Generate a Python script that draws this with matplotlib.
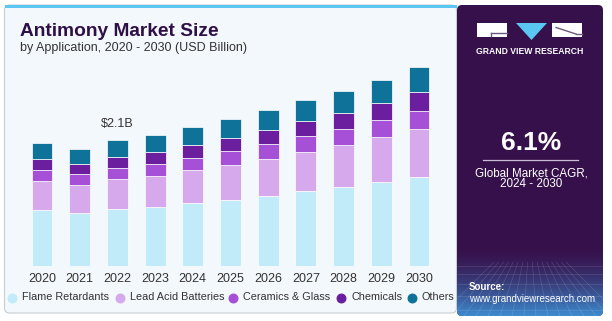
import numpy as np
import matplotlib
matplotlib.use("Agg")
import matplotlib.pyplot as plt
from matplotlib.patches import FancyBboxPatch, Rectangle, Polygon

plt.rcParams["font.family"] = ["Liberation Sans", "DejaVu Sans"]

years = ["2020", "2021", "2022", "2023", "2024", "2025", "2026", "2027", "2028", "2029", "2030"]
segments = ["Flame Retardants", "Lead Acid Batteries", "Ceramics & Glass", "Chemicals", "Others"]
flame = [0.93, 0.89, 0.95, 0.99, 1.05, 1.11, 1.17, 1.25, 1.32, 1.40, 1.49]
lead = [0.49, 0.46, 0.50, 0.52, 0.55, 0.58, 0.62, 0.66, 0.70, 0.76, 0.80]
ceramics = [0.19, 0.18, 0.19, 0.20, 0.21, 0.23, 0.25, 0.26, 0.27, 0.28, 0.30]
chemicals = [0.18, 0.17, 0.18, 0.19, 0.21, 0.22, 0.24, 0.25, 0.26, 0.28, 0.31]
others = [0.27, 0.26, 0.28, 0.29, 0.30, 0.32, 0.33, 0.35, 0.37, 0.39, 0.43]
colors = ["#c1ebf9", "#d5a9ec", "#a650d8", "#6b1f9e", "#0f7399"]
label_year = "2022"
label_text = "$2.1B"

W, H = 612, 321
fig = plt.figure(figsize=(W / 100, H / 100), dpi=100)
fig.patch.set_facecolor("white")

# background / decoration axes in pixel coordinates
bg = fig.add_axes([0, 0, 1, 1])
bg.set_xlim(0, W)
bg.set_ylim(H, 0)
bg.axis("off")

bg.add_patch(FancyBboxPatch((4.5, 5), 452, 308, boxstyle="round,pad=0,rounding_size=5",
                            fc="#f3f8fc", ec="#c9cdd2", lw=0.8, zorder=0))
bg.add_patch(Rectangle((5, 5), 452, 3, fc="#5ac6f2", ec="none", zorder=1))

# right panel with gradient
panel = FancyBboxPatch((457, 5), 146, 311, boxstyle="round,pad=0,rounding_size=5",
                       fc="#36104a", ec="none", zorder=1)
bg.add_patch(panel)
grad = np.linspace(0, 1, 100)[:, None] ** 1.6
c0 = np.array([0x36, 0x10, 0x4a]) / 255
c1 = np.array([0x3d, 0x8c, 0xd0]) / 255
img = c0[None, None, :] * (1 - grad[:, :, None]) + c1[None, None, :] * grad[:, :, None]
im = bg.imshow(img, extent=(457, 603, 316, 245), aspect="auto", zorder=2,
               interpolation="bilinear")
im.set_clip_path(panel)
# faint grid pattern
for xg in np.linspace(440, 620, 16):
    ln, = bg.plot([530 + (xg - 530) * 0.4, xg], [262, 316], color="white", lw=0.4,
                  alpha=0.18, zorder=3)
    ln.set_clip_path(panel)
for yg in [266, 274, 284, 296, 310]:
    ln, = bg.plot([457, 603], [yg, yg], color="white", lw=0.4, alpha=0.18, zorder=3)
    ln.set_clip_path(panel)

# logo
bg.add_patch(Rectangle((477, 23), 30, 14, fc="white", ec="none", zorder=4))
bg.plot([491, 507], [32.5, 32.5], color="#6b5a80", lw=1.0, zorder=5)
bg.plot([491, 491], [32.5, 35.5], color="#6b5a80", lw=1.0, zorder=5)
bg.add_patch(Polygon([(516, 23), (547, 23), (531.5, 40)], closed=True,
                     fc="#5ac6f2", ec="none", zorder=4))
bg.add_patch(Rectangle((552, 23), 30, 14, fc="white", ec="none", zorder=4))
bg.plot([556, 576], [27.5, 34], color="#6b5a80", lw=1.0, zorder=5)
bg.plot([576, 582], [34, 34], color="#6b5a80", lw=1.0, zorder=5)
bg.text(529.5, 51, "GRAND VIEW RESEARCH", color="white", fontsize=6.2,
        fontweight="bold", ha="center", va="center", zorder=5)

bg.text(531, 143, "6.1%", color="white", fontsize=19, fontweight="bold",
        ha="center", va="center", zorder=5)
bg.plot([483, 578], [160, 160], color="#c9bfd4", lw=0.9, zorder=5)
bg.text(531, 173, "Global Market CAGR,", color="white", fontsize=8.4,
        ha="center", va="center", zorder=5)
bg.text(531, 184, "2024 - 2030", color="white", fontsize=8.4,
        ha="center", va="center", zorder=5)
bg.text(469, 287, "Source:", color="white", fontsize=7, fontweight="bold",
        ha="left", va="center", zorder=5)
bg.text(469, 299, "www.grandviewresearch.com", color="white", fontsize=7,
        ha="left", va="center", zorder=5)

# titles
bg.text(20, 31, "Antimony Market Size", color="#2e0f47", fontsize=13.8,
        fontweight="bold", ha="left", va="center")
bg.text(20, 48, "by Application, 2020 - 2030 (USD Billion)", color="#333333",
        fontsize=9, ha="left", va="center")

# legend
leg_x = [12, 120, 233, 341, 412]
for x0, name, col in zip(leg_x, segments, colors):
    bg.scatter([x0], [297.5], s=38, color=col, zorder=5)
    bg.text(x0 + 10, 297.5, name, fontsize=7.8, color="#333333",
            ha="left", va="center")

# chart axes
L, R = 23.15, 437.85
ax = fig.add_axes([L / W, (H - 266) / H, (R - L) / W, (266 - 60) / H])
ax.patch.set_alpha(0)
x = np.arange(len(years))
bottom = np.zeros(len(years))
for vals, col in zip([flame, lead, ceramics, chemicals, others], colors):
    ax.bar(x, vals, 0.557, bottom=bottom, color=col, edgecolor="white", linewidth=0.5)
    bottom += np.array(vals)
ax.set_xlim(-0.5, len(years) - 0.5)
ax.set_ylim(0, (266 - 60) / 59.86)
ax.set_xticks(x)
ax.set_xticklabels(years, fontsize=9, color="#333333")
ax.tick_params(axis="x", length=0, pad=5)
ax.set_yticks([])
for s in ax.spines.values():
    s.set_visible(False)
i = years.index(label_year)
ax.annotate(label_text, (x[i], bottom[i]), xytext=(0, 12), textcoords="offset points",
            ha="center", va="center", fontsize=9, color="#333333")

fig.savefig("out.png", dpi=100)
